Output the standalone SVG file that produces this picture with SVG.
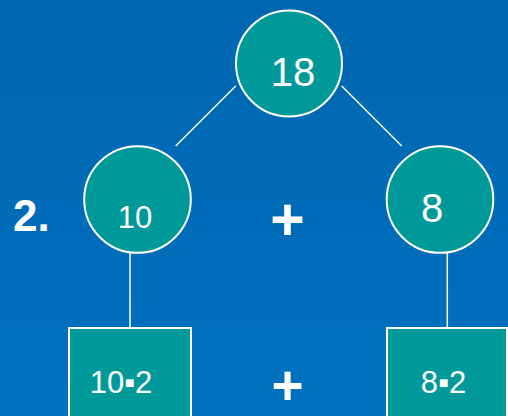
<svg xmlns="http://www.w3.org/2000/svg" width="508" height="416" viewBox="0 0 508 416">
<defs>
<linearGradient id="bg" x1="0" y1="0" x2="0" y2="1">
<stop offset="0" stop-color="#0066B0"/>
<stop offset="1" stop-color="#0071C0"/>
</linearGradient>
<style>
.n{fill:#009999;stroke:#fff;stroke-width:2}
.t{fill:#fff;font-family:"Liberation Sans",Arial,sans-serif;text-anchor:middle}
.c{stroke:#fff;stroke-width:1.5;fill:none}
</style>
</defs>
<rect width="508" height="416" fill="url(#bg)"/>
<g id="connectors">
<line class="c" x1="235.7" y1="86" x2="175.7" y2="146"/>
<line class="c" x1="341.7" y1="86" x2="401.7" y2="146"/>
<line class="c" x1="130" y1="253" x2="130" y2="328"/>
<line class="c" x1="447.3" y1="253" x2="447.3" y2="328"/>
</g>
<g id="root"><circle class="n" cx="289" cy="63.5" r="53"/><text class="t" x="293" y="86" font-size="40">18</text></g>
<g id="left"><circle class="n" cx="137.5" cy="199.5" r="53.3"/><text class="t" x="135" y="228" font-size="31">10</text></g>
<g id="right"><circle class="n" cx="440" cy="199.5" r="53.3"/><text class="t" x="432" y="222" font-size="40">8</text></g>
<g id="boxLeft"><rect class="n" x="69" y="328" width="122" height="100"/><text class="t" x="121" y="393" font-size="31">10▪2</text></g>
<g id="boxRight"><rect class="n" x="387" y="328" width="120" height="100"/><text class="t" x="443.5" y="393" font-size="31">8▪2</text></g>
<g id="labels">
<text x="13" y="231" fill="#fff" font-family="'Liberation Sans',Arial,sans-serif" font-weight="bold" font-size="44">2.</text>
<text class="t" x="287.5" y="240" font-size="59" font-weight="bold">+</text>
<text class="t" x="287.5" y="403.5" font-size="55" font-weight="bold">+</text>
</g>
</svg>
